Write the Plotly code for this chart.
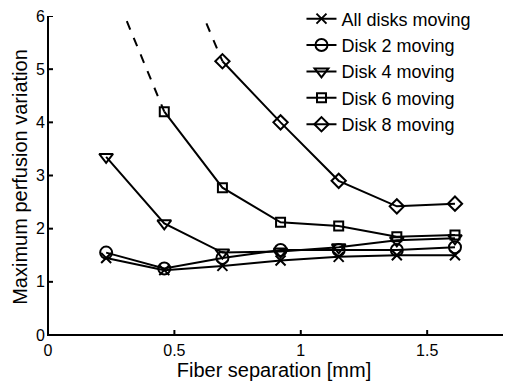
import plotly.graph_objects as go

x = [0.23, 0.46, 0.69, 0.92, 1.15, 1.38, 1.61]
all_disks = [1.45, 1.22, 1.30, 1.40, 1.47, 1.50, 1.50]
disk2 = [1.55, 1.25, 1.45, 1.60, 1.60, 1.60, 1.65]
disk4 = [3.35, 2.10, 1.55, 1.57, 1.65, 1.78, 1.82]
x6 = [0.46, 0.69, 0.92, 1.15, 1.38, 1.61]
disk6 = [4.20, 2.77, 2.12, 2.05, 1.85, 1.88]
x8 = [0.69, 0.92, 1.15, 1.38, 1.61]
disk8 = [5.15, 4.00, 2.90, 2.42, 2.47]
# extrapolated dashed segments (clipped by the axis at 6)
x6_ext = [0.23, 0.46]
disk6_ext = [6.84, 4.20]
x8_ext = [0.46, 0.69]
disk8_ext = [7.73, 5.15]

x_lim = [0, 1.8]
y_lim = [0, 6]
x_ticks = [0, 0.5, 1, 1.5]
x_ticktext = ["0", "0.5", "1", "1.5"]
y_ticks = [0, 1, 2, 3, 4, 5, 6]

W, H = 505, 384
PAD = 3  # extra pixels so the axis frame sits fully inside the plotting area
M = dict(l=48 - PAD, r=2, t=15, b=49 - PAD)
plot_w = W - M["l"] - M["r"]
plot_h = H - M["t"] - M["b"]
# axis ranges extended by PAD pixels on the low side (data scale unchanged)
sx = (x_lim[1] - x_lim[0]) / (plot_w - PAD)
sy = (y_lim[1] - y_lim[0]) / (plot_h - PAD)
x_range = [x_lim[0] - PAD * sx, x_lim[1]]
y_range = [y_lim[0] - PAD * sy, y_lim[1]]

FONT = "Liberation Sans, Arial, Helvetica, sans-serif"
fig = go.Figure()
line = dict(color="black", width=2)

# axis frame (left + bottom) with inside ticks, derived from limits and tick values
tx = 5 * sx
ty = 5 * sy
fx = [x_lim[0], x_lim[0], x_lim[1]]
fy = [y_lim[1], y_lim[0], y_lim[0]]
for t in x_ticks[1:]:
    fx += [None, t, t]
    fy += [None, y_lim[0], y_lim[0] + ty]
for t in y_ticks[1:]:
    fx += [None, x_lim[0], x_lim[0] + tx]
    fy += [None, t, t]
fig.add_trace(go.Scatter(x=fx, y=fy, mode="lines", showlegend=False, hoverinfo="skip",
                         line=dict(color="black", width=2)))

def add(xs, ys, name, symbol, size=10, fill="rgba(0,0,0,0)"):
    fig.add_trace(go.Scatter(x=xs, y=ys, name=name, mode="lines+markers",
                             line=line, cliponaxis=False,
                             marker=dict(symbol=symbol, size=size, color=fill,
                                         line=dict(color="black", width=2))))

fig.add_trace(go.Scatter(x=x6_ext, y=disk6_ext, mode="lines", showlegend=False,
                         line=dict(color="black", width=2, dash="dash")))
fig.add_trace(go.Scatter(x=x8_ext, y=disk8_ext, mode="lines", showlegend=False,
                         line=dict(color="black", width=2, dash="dash")))
add(x, all_disks, "All disks moving", "x-thin", 10, "black")
add(x, disk2, "Disk 2 moving", "circle", 12)
add(x, disk4, "Disk 4 moving", "triangle-down", 12)
add(x6, disk6, "Disk 6 moving", "square", 9)
add(x8, disk8, "Disk 8 moving", "diamond", 11)

axis_common = dict(showgrid=False, zeroline=False, showline=False, ticks="",
                   tickfont=dict(size=16), automargin=False)

fig.update_layout(
    width=W, height=H,
    margin=M,
    paper_bgcolor="white", plot_bgcolor="white",
    font=dict(family=FONT, size=16, color="black"),
    showlegend=True,
    legend=dict(x=0.56, y=1.045, xanchor="left", yanchor="top",
                bgcolor="rgba(0,0,0,0)", font=dict(size=18), tracegroupgap=0),
    xaxis=dict(range=x_range, tickvals=x_ticks, ticktext=x_ticktext,
               ticklabelstandoff=1,
               title=dict(text="Fiber separation [mm]", font=dict(size=20), standoff=4),
               **axis_common),
    yaxis=dict(range=y_range, tickvals=y_ticks, ticklabelstandoff=-1,
               title=dict(text="Maximum perfusion variation", font=dict(size=20), standoff=3),
               **axis_common),
)
fig.write_html("out.html", config={"displayModeBar": False},
               post_script="document.body.style.margin='0';")
